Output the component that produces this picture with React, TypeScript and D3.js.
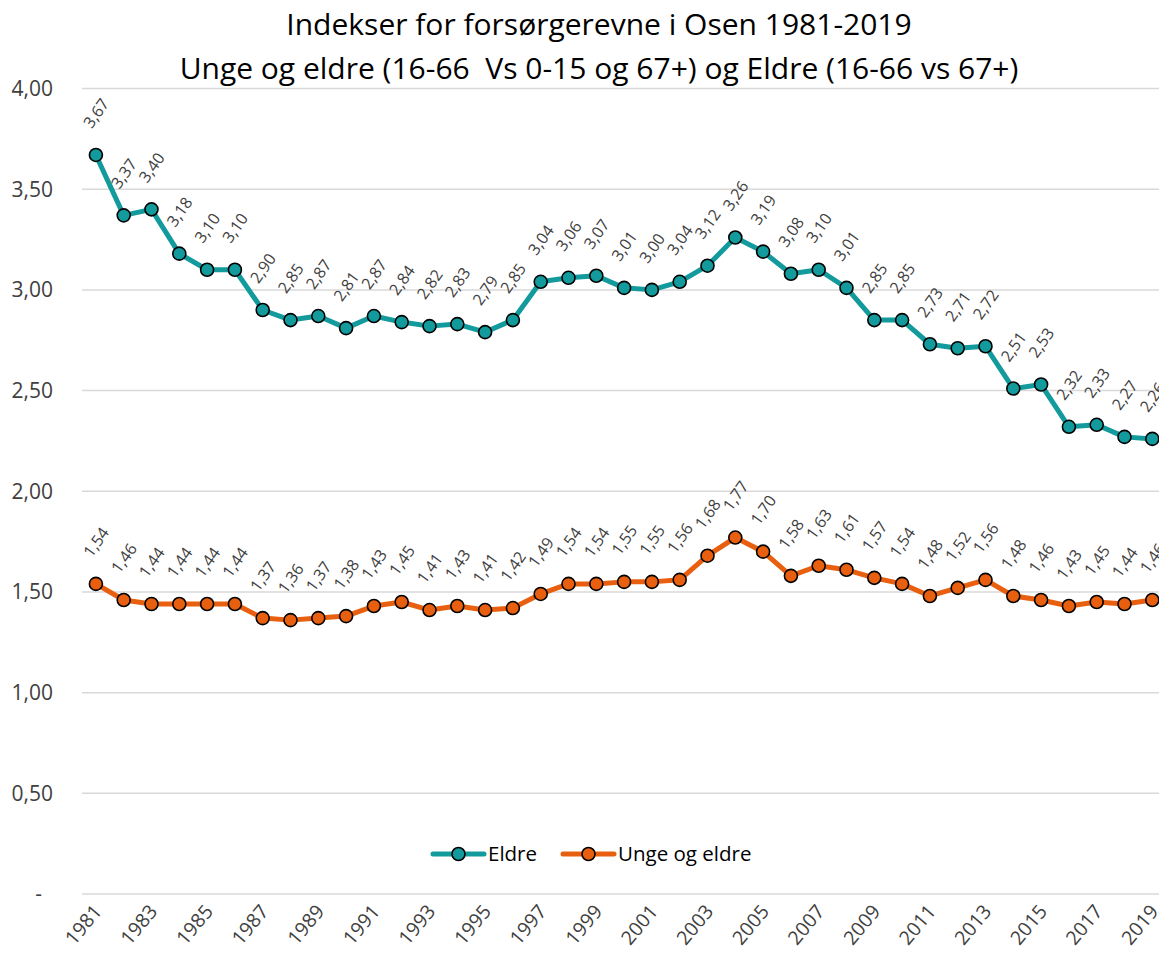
import React from "react";
import * as d3 from "d3";

const years: number[] = [
  1981, 1982, 1983, 1984, 1985, 1986, 1987, 1988, 1989, 1990,
  1991, 1992, 1993, 1994, 1995, 1996, 1997, 1998, 1999, 2000,
  2001, 2002, 2003, 2004, 2005, 2006, 2007, 2008, 2009, 2010,
  2011, 2012, 2013, 2014, 2015, 2016, 2017, 2018, 2019,
];

const eldre: number[] = [
  3.67, 3.37, 3.40, 3.18, 3.10, 3.10, 2.90, 2.85, 2.87, 2.81,
  2.87, 2.84, 2.82, 2.83, 2.79, 2.85, 3.04, 3.06, 3.07, 3.01,
  3.00, 3.04, 3.12, 3.26, 3.19, 3.08, 3.10, 3.01, 2.85, 2.85,
  2.73, 2.71, 2.72, 2.51, 2.53, 2.32, 2.33, 2.27, 2.26,
];

const ungeOgEldre: number[] = [
  1.54, 1.46, 1.44, 1.44, 1.44, 1.44, 1.37, 1.36, 1.37, 1.38,
  1.43, 1.45, 1.41, 1.43, 1.41, 1.42, 1.49, 1.54, 1.54, 1.55,
  1.55, 1.56, 1.68, 1.77, 1.70, 1.58, 1.63, 1.61, 1.57, 1.54,
  1.48, 1.52, 1.56, 1.48, 1.46, 1.43, 1.45, 1.44, 1.46,
];

const yTicks: number[] = [0, 0.5, 1, 1.5, 2, 2.5, 3, 3.5, 4];
const xTickYears: number[] = years.filter((y) => (y - 1981) % 2 === 0);

const titleLines: string[] = [
  "Indekser for forsørgerevne i Osen 1981-2019",
  "Unge og eldre (16-66  Vs 0-15 og 67+) og Eldre (16-66 vs 67+)",
];

const seriesNames: string[] = ["Eldre", "Unge og eldre"];

const W = 1159;
const H = 957;
const FONT = "'Open Sans', Lato, sans-serif";
const TEAL = "#139a9c";
const ORANGE = "#e8600f";
const TEXT = "#404040";

const fmt = (v: number) => v.toFixed(2).replace(".", ",");

export default function App() {
  const x = d3
    .scaleBand<number>()
    .domain(years)
    .range([82, 82 + years.length * 27.8]);
  const y = d3.scaleLinear().domain([0, 4]).range([894, 88.5]);
  const cx = (yr: number) => (x(yr) as number) + x.bandwidth() / 2;

  const line = d3
    .line<number>()
    .x((_, i) => cx(years[i]))
    .y((d) => y(d));

  const series = [
    { name: seriesNames[0], values: eldre, color: TEAL },
    { name: seriesNames[1], values: ungeOgEldre, color: ORANGE },
  ];

  const legendItems = [
    { name: seriesNames[0], color: TEAL, x0: 433 },
    { name: seriesNames[1], color: ORANGE, x0: 563 },
  ];

  return (
    <svg
      width={W}
      height={H}
      style={{ position: "absolute", left: 0, top: 0, background: "#fff" }}
      fontFamily={FONT}
    >
      {/* Title */}
      {titleLines.map((t, i) => (
        <text
          key={i}
          x={599}
          y={35 + i * 44}
          textAnchor="middle"
          fontSize={30}
          fill="#000"
          style={{ whiteSpace: "pre" }}
        >
          {t}
        </text>
      ))}

      {/* Gridlines */}
      {yTicks.map((t) => (
        <line
          key={t}
          x1={82}
          x2={W}
          y1={y(t)}
          y2={y(t)}
          stroke="#d9d9d9"
          strokeWidth={1.5}
        />
      ))}

      {/* Y axis labels */}
      {yTicks.map((t) => (
        <text
          key={t}
          x={t === 0 ? 42 : 53}
          y={y(t)}
          dy="0.35em"
          textAnchor="end"
          fontSize={21}
          fill={TEXT}
        >
          {t === 0 ? "-" : fmt(t)}
        </text>
      ))}

      {/* X axis labels */}
      {xTickYears.map((yr) => (
        <text
          key={yr}
          transform={`translate(${cx(yr) + 7},${912}) rotate(-50)`}
          textAnchor="end"
          fontSize={19.5}
          fill={TEXT}
        >
          {yr}
        </text>
      ))}

      {/* Lines */}
      {series.map((s) => (
        <path
          key={s.name}
          d={line(s.values) || ""}
          fill="none"
          stroke={s.color}
          strokeWidth={5}
          strokeLinejoin="round"
        />
      ))}

      {/* Markers */}
      {series.map((s) =>
        s.values.map((v, i) => (
          <circle
            key={s.name + i}
            cx={cx(years[i])}
            cy={y(v)}
            r={6.5}
            fill={s.color}
            stroke="#000"
            strokeWidth={1.6}
          />
        ))
      )}

      {/* Data labels */}
      {series.map((s) =>
        s.values.map((v, i) => (
          <text
            key={s.name + "l" + i}
            transform={`translate(${cx(years[i])},${y(v) - 42}) rotate(-55)`}
            textAnchor="middle"
            dominantBaseline="central"
            fontSize={16}
            fill={TEXT}
          >
            {fmt(v)}
          </text>
        ))
      )}

      {/* Legend */}
      {legendItems.map((l) => (
        <g key={l.name}>
          <line
            x1={l.x0}
            x2={l.x0 + 51}
            y1={854}
            y2={854}
            stroke={l.color}
            strokeWidth={5}
            strokeLinecap="round"
          />
          <circle
            cx={l.x0 + 25.5}
            cy={854}
            r={6.5}
            fill={l.color}
            stroke="#000"
            strokeWidth={1.6}
          />
          <text
            x={l.x0 + 55}
            y={854}
            dy="0.35em"
            fontSize={20.5}
            fill="#000"
          >
            {l.name}
          </text>
        </g>
      ))}
    </svg>
  );
}
